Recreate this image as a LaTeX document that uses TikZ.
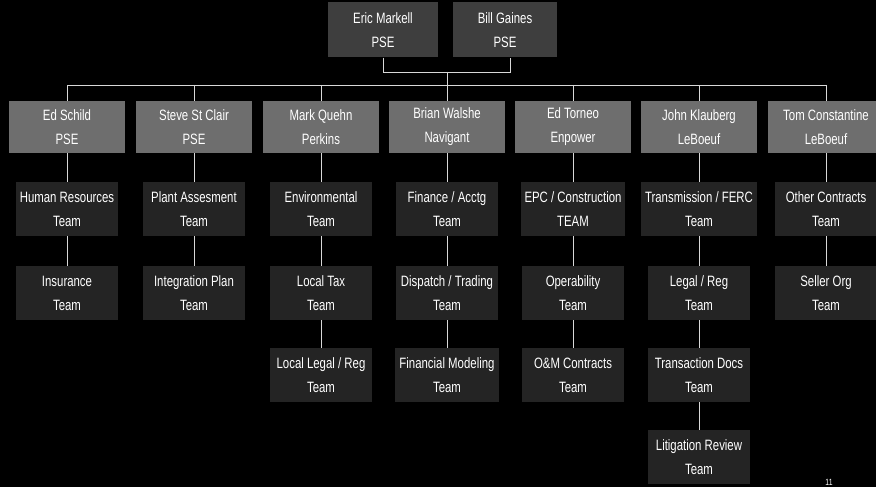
\documentclass[tikz,border=0pt]{standalone}
\usepackage{fontspec}
\setmainfont[FakeStretch=0.76]{Liberation Sans}
\definecolor{topfill}{HTML}{3E3E3E}
\definecolor{midfill}{HTML}{6E6E6E}
\definecolor{teamfill}{HTML}{242424}
\definecolor{linec}{HTML}{D8D8D8}
\begin{document}
\begin{tikzpicture}[x=1pt,y=-1pt,
  every node/.style={text=white, font=\fontsize{15}{24}\selectfont, align=center, inner sep=0pt},
  topbox/.style={fill=topfill, minimum width=110pt, minimum height=55pt},
  leadbox/.style={fill=midfill, minimum width=116pt, minimum height=52pt},
  teambox/.style={fill=teamfill, minimum width=102pt, minimum height=54pt, inner xsep=4pt},
  conn/.style={draw=linec, line width=0.7pt}]
\fill[black] (0,0) rectangle (876,487);
\useasboundingbox (0,0) rectangle (876,487);
% top
\node[topbox] (em) at (383,30) {Eric Markell\\PSE};
\node[topbox, minimum width=104pt] (bg) at (505,30) {Bill Gaines\\PSE};
\coordinate (bl) at (383,72);
\coordinate (br) at (510,72);
\coordinate (bm) at (447,72);
\coordinate (busm) at (447,85);
\coordinate (busl) at (67,85);
\coordinate (busr) at (826,85);
% leaders
\node[leadbox] (l1) at (67,127) {Ed Schild\\PSE};
\node[leadbox] (l2) at (194,127) {Steve St Clair\\PSE};
\node[leadbox] (l3) at (321,127) {Mark Quehn\\Perkins};
\node[leadbox] (l4) at (447,127) {Brian Walshe\\Navigant};
\node[leadbox] (l5) at (573,127) {Ed Torneo\\Enpower};
\node[leadbox] (l6) at (699,127) {John Klauberg\\LeBoeuf};
\node[leadbox] (l7) at (826,127) {Tom Constantine\\LeBoeuf};
% row 1
\node[teambox] (a1) at (67,209) {Human Resources\\Team};
\node[teambox] (b1) at (194,209) {Plant Assesment\\Team};
\node[teambox] (c1) at (321,209) {Environmental\\Team};
\node[teambox] (d1) at (447,209) {Finance / Acctg\\Team};
\node[teambox] (e1) at (573,209) {EPC / Construction\\TEAM};
\node[teambox] (f1) at (699,209) {Transmission / FERC\\Team};
\node[teambox] (g1) at (826,209) {Other Contracts\\Team};
% row 2
\node[teambox] (a2) at (67,293) {Insurance\\Team};
\node[teambox] (b2) at (194,293) {Integration Plan\\Team};
\node[teambox] (c2) at (321,293) {Local Tax\\Team};
\node[teambox] (d2) at (447,293) {Dispatch / Trading\\Team};
\node[teambox] (e2) at (573,293) {Operability\\Team};
\node[teambox] (f2) at (699,293) {Legal / Reg\\Team};
\node[teambox] (g2) at (826,293) {Seller Org\\Team};
% row 3
\node[teambox] (c3) at (321,375) {Local Legal / Reg\\Team};
\node[teambox] (d3) at (447,375) {Financial Modeling\\Team};
\node[teambox] (e3) at (573,375) {O\&M Contracts\\Team};
\node[teambox] (f3) at (699,375) {Transaction Docs\\Team};
% row 4
\node[teambox] (f4) at (699,457) {Litigation Review\\Team};
% page number
\node[font=\fontsize{9}{9}\selectfont, anchor=south] (pg) at (829,486) {11};
% connectors
\draw[conn] (em.south) -- (bl) -- (br) -- (br |- bg.south);
\draw[conn] (bm) -- (busm);
\draw[conn] (busl) -- (busr);
\foreach \n in {l1,l2,l3,l4,l5,l6,l7} \draw[conn] (\n.north |- busl) -- (\n.north);
\foreach \a/\b in {l1/a1,l2/b1,l3/c1,l4/d1,l5/e1,l6/f1,l7/g1,a1/a2,b1/b2,c1/c2,d1/d2,e1/e2,f1/f2,g1/g2,c2/c3,d2/d3,e2/e3,f2/f3,f3/f4}
  \draw[conn] (\a.south) -- (\b.north);
\end{tikzpicture}
\end{document}
